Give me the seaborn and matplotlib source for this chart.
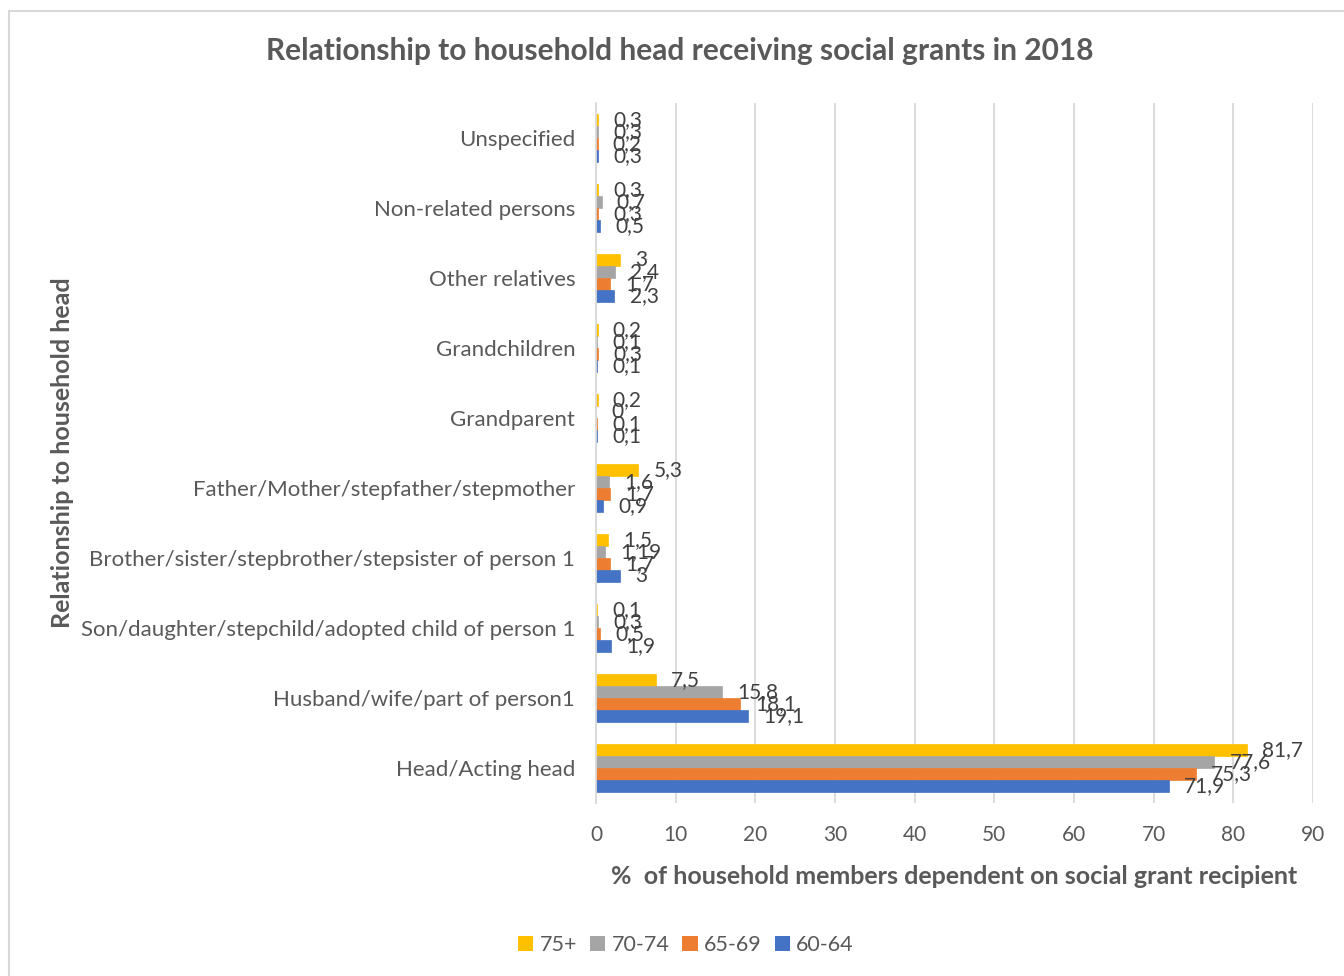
import matplotlib
matplotlib.use("Agg")
import matplotlib.pyplot as plt
from matplotlib.lines import Line2D
from matplotlib.patches import Patch
import seaborn as sns
import pandas as pd

# Relationship categories, listed top to bottom
categories = [
    "Unspecified",
    "Non-related persons",
    "Other relatives",
    "Grandchildren",
    "Grandparent",
    "Father/Mother/stepfather/stepmother",
    "Brother/sister/stepbrother/stepsister of person 1",
    "Son/daughter/stepchild/adopted child of person 1",
    "Husband/wife/part of person1",
    "Head/Acting head",
]

# Share (%) per age group of the grant recipient
age_75_plus = [0.3, 0.3, 3, 0.2, 0.2, 5.3, 1.5, 0.1, 7.5, 81.7]
age_70_74 = [0.3, 0.7, 2.4, 0.1, 0, 1.6, 1.19, 0.3, 15.8, 77.6]
age_65_69 = [0.2, 0.3, 1.7, 0.3, 0.1, 1.7, 1.7, 0.5, 18.1, 75.3]
age_60_64 = [0.3, 0.5, 2.3, 0.1, 0.1, 0.9, 3, 1.9, 19.1, 71.9]

groups = ["75+", "70-74", "65-69", "60-64"]
series = [age_75_plus, age_70_74, age_65_69, age_60_64]
palette = {"75+": "#FFC000", "70-74": "#A5A5A5", "65-69": "#ED7D31", "60-64": "#4472C4"}

rows = []
for g, vals in zip(groups, series):
    for c, v in zip(categories, vals):
        rows.append({"category": c, "group": g, "value": v})
df = pd.DataFrame(rows)

sns.set_theme(style="white")
plt.rcParams["font.family"] = ["Lato", "DejaVu Sans"]

text_color = "#595959"
label_color = "#404040"

fig = plt.figure(figsize=(13.44, 9.76), dpi=100)
ax = fig.add_axes([596 / 1344, 1 - 803 / 976, (1313 - 596) / 1344, 700 / 976])

sns.barplot(
    data=df, y="category", x="value", hue="group",
    order=categories, hue_order=groups, palette=palette,
    orient="h", width=0.69, saturation=1, errorbar=None,
    linewidth=0, ax=ax, legend=False,
)

# Give very thin bars a crisp minimum presence
for patch in ax.patches:
    patch.set_edgecolor(patch.get_facecolor())
    patch.set_linewidth(0.5)

ax.set_xlim(0, 90)
ax.set_xticks(range(0, 91, 10))
ax.xaxis.grid(True, color="#D9D9D9", linewidth=1.3)
ax.set_axisbelow(True)
for side in ["top", "right", "bottom"]:
    ax.spines[side].set_visible(False)
ax.spines["left"].set_color("#D9D9D9")
ax.spines["left"].set_linewidth(1.3)
ax.tick_params(axis="y", length=0, colors=text_color, labelsize=16, pad=15)
ax.tick_params(axis="x", length=0, colors=text_color, labelsize=15, pad=16)

# Value labels to the right of each bar
for container, g in zip(ax.containers, groups):
    labels = [f"{v:g}".replace(".", ",") for v in df[df.group == g]["value"]]
    ax.bar_label(container, labels=labels, padding=11, fontsize=15,
                 color=label_color)

ax.set_xlabel("%  of household members dependent on social grant recipient",
              fontsize=18, fontweight="bold", color=text_color)
ax.xaxis.set_label_coords(0.5, -0.088)
ax.set_ylabel("Relationship to household head", fontsize=18,
              fontweight="bold", color=text_color)
ax.yaxis.set_label_coords(-0.728, 0.5)

fig.text(680 / 1344, 1 - 51 / 976,
         "Relationship to household head receiving social grants in 2018",
         ha="center", va="center", fontsize=21.5, fontweight="bold",
         color=text_color)

handles = [Patch(facecolor=palette[g], edgecolor="none", label=g) for g in groups]
fig.legend(handles=handles, loc="center", bbox_to_anchor=(686 / 1344, 1 - 945 / 976),
           ncol=4, frameon=False, fontsize=15.5, handlelength=0.7,
           handleheight=0.7, handletextpad=0.3, columnspacing=0.6,
           labelcolor=text_color)

# Chart-area border on the left and top
fig.add_artist(Line2D([8.5 / 1344, 8.5 / 1344], [0, 1 - 11 / 976],
                      transform=fig.transFigure, color="#D9D9D9", linewidth=1.5))
fig.add_artist(Line2D([8.5 / 1344, 1], [1 - 11 / 976, 1 - 11 / 976],
                      transform=fig.transFigure, color="#D9D9D9", linewidth=1.5))

fig.savefig("out.png", dpi=100, facecolor="white")
